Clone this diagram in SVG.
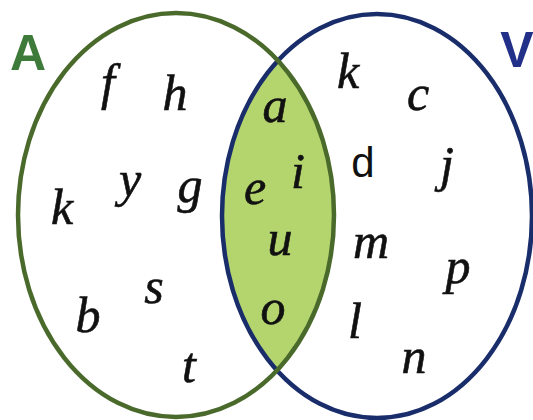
<svg xmlns="http://www.w3.org/2000/svg" width="533" height="420" viewBox="0 0 533 420">
<style>
.v{font-family:"Liberation Serif","DejaVu Serif",serif;font-style:italic;font-size:50px;fill:#111;stroke:#111;stroke-width:0.6;text-anchor:middle}
.u{font-family:"Liberation Sans","Open Sans",sans-serif;font-size:42px;fill:#111;text-anchor:middle}
.lbl{font-family:"Liberation Sans","DejaVu Sans",sans-serif;font-weight:bold;font-size:50px;text-anchor:middle}
</style>
<defs>
<clipPath id="clipA"><ellipse cx="176" cy="215" rx="158" ry="202"/></clipPath>
</defs>
<rect width="533" height="420" fill="#fff"/>
<g id="lens"><ellipse cx="377" cy="216" rx="155" ry="202" fill="#b4d56e" clip-path="url(#clipA)"/></g>
<g id="setV"><ellipse cx="377" cy="216" rx="155" ry="202" fill="none" stroke="#1a2d6b" stroke-width="4.5"/>
<text class="lbl" x="517" y="67" fill="#23308a">V</text></g>
<g id="setA"><ellipse cx="176" cy="215" rx="158" ry="202" fill="none" stroke="#4a6a2c" stroke-width="4.5"/>
<text class="lbl" x="28" y="70" fill="#3e7b3a">A</text></g>
<g id="elements">
<text class="v" x="108" y="99">f</text>
<text class="v" x="175" y="110">h</text>
<text class="v" x="62" y="224">k</text>
<text class="v" x="130" y="196">y</text>
<text class="v" x="190" y="202">g</text>
<text class="v" x="154" y="303">s</text>
<text class="v" x="88" y="332">b</text>
<text class="v" x="189" y="382">t</text>
<text class="v" x="275" y="122">a</text>
<text class="v" x="298" y="188">i</text>
<text class="v" x="255" y="204">e</text>
<text class="v" x="280" y="255">u</text>
<text class="v" x="273" y="324">o</text>
<text class="v" x="348" y="88">k</text>
<text class="v" x="418" y="110">c</text>
<text class="u" x="363" y="177">d</text>
<text class="v" x="447" y="181">j</text>
<text class="v" x="371" y="258">m</text>
<text class="v" x="458" y="283">p</text>
<text class="v" x="355" y="338">l</text>
<text class="v" x="414" y="373">n</text>
</g>
</svg>
